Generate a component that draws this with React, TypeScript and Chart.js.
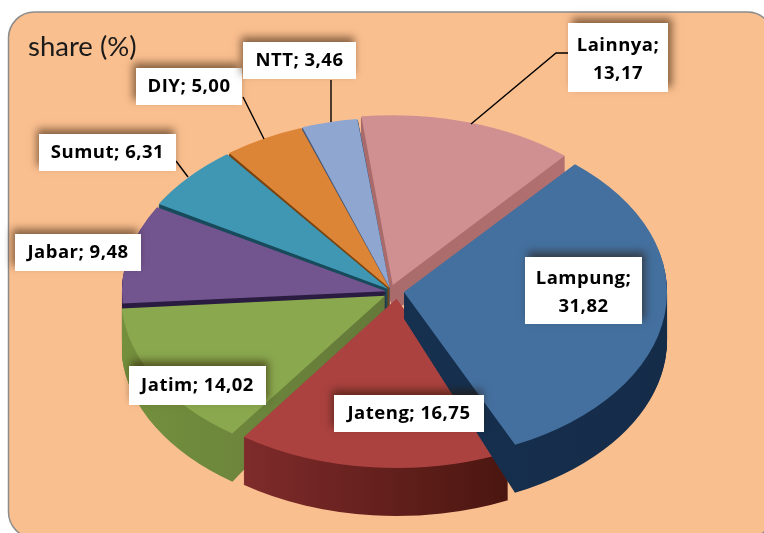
import React, { useEffect, useRef } from "react";
import { Chart, registerables } from "chart.js";

Chart.register(...registerables);

const categories = ["Lampung", "Jateng", "Jatim", "Jabar", "Sumut", "DIY", "NTT", "Lainnya"];
const shares = [31.82, 16.75, 14.02, 9.48, 6.31, 5.0, 3.46, 13.17];
const topColors = ["#44709f", "#ab4240", "#8aa84e", "#72548f", "#3f97b3", "#dd8537", "#8fa6d0", "#d08f90"];
const wallLeft = ["#16304f", "#7f2b2b", "#74903d", "#2a1c40", "#174a5a", "#7a4410", "#44587a", "#a86a6a"];
const wallRight = ["#152c49", "#4b1610", "#64793a", "#2a1c40", "#174a5a", "#7a4410", "#44587a", "#b27070"];
const sliceOffsets = [52, 68, 36, 20, 20, 20, 20, 52];
// small screen-space shifts on top of the radial explosion
const sliceNudges = [[-1, 0], [6, -3], [1, 2], [-1, 1], [0, 0], [0, 0], [-1, 0], [-3, 2]];
const titleText = "share (%)";

// label box layout: left, top, right, bottom, shadow x direction
const labelBoxes = [
  [525, 257, 642, 324, 3],
  [334, 395, 484, 432, -2],
  [129, 366, 266, 405, 2],
  [15, 234, 141, 271, -3],
  [39, 134, 176, 171, -2],
  [136, 68, 242, 105, -3],
  [243, 42, 356, 79, -2],
  [568, 23, 668, 92, 4],
];
const twoLine = [true, false, false, false, false, false, false, true];
// leader polylines per slice
const leaders: number[][][] = [
  [], [], [], [],
  [[176, 161], [188, 177]],
  [[243, 97], [264, 139]],
  [[331, 80], [331, 122]],
  [[568, 53], [556, 53], [471, 124]],
];

const SQUASH = 0.64;
const CENTER_Y = 291;
const DEPTH = 48;
const APEX_TAPER = 0.55;
const RADIUS = 262;

const pie3d = {
  id: "pie3d",
  beforeDraw(chart: any) {
    const { ctx } = chart;
    ctx.save();
    ctx.fillStyle = "#ffffff";
    ctx.fillRect(0, 0, 764, 533);
    ctx.beginPath();
    ctx.roundRect(8.5, 12, 765, 526, 26);
    ctx.fillStyle = "#fabf8f";
    ctx.fill();
    ctx.lineWidth = 1.5;
    ctx.strokeStyle = "#8c8c8c";
    ctx.stroke();
    ctx.restore();
  },
  beforeDatasetsDraw(chart: any) {
    const { ctx } = chart;
    const arcs = chart.getDatasetMeta(0).data;
    for (let i = arcs.length - 1; i >= 0; i--) {
      const arc = arcs[i];
      const { x, y, startAngle, endAngle, outerRadius } = arc.getProps(
        ["x", "y", "startAngle", "endAngle", "outerRadius"],
        true
      );
      const offset = (arc.options.offset || 0) / 4;
      const mid = (startAngle + endAngle) / 2;
      const fix = 1 - Math.sin(Math.min(Math.PI, endAngle - startAngle));
      const r = outerRadius + offset * fix;
      const ax = x + Math.cos(mid) * offset;
      const ay = y + Math.sin(mid) * offset;
      ctx.save();
      ctx.translate(sliceNudges[i][0], CENTER_Y + sliceNudges[i][1]);
      ctx.scale(1, SQUASH);
      ctx.translate(0, -y);
      let minX = ax;
      let maxX = ax;
      for (let t = 0; t <= 24; t++) {
        const px = ax + Math.cos(startAngle + ((endAngle - startAngle) * t) / 24) * r;
        minX = Math.min(minX, px);
        maxX = Math.max(maxX, px);
      }
      const grad = ctx.createLinearGradient(minX, 0, maxX, 0);
      grad.addColorStop(0, wallLeft[i]);
      grad.addColorStop(1, wallRight[i]);
      ctx.fillStyle = grad;
      for (let d = DEPTH; d >= 1; d--) {
        const dy = d / SQUASH;
        ctx.beginPath();
        ctx.moveTo(ax, ay + dy * APEX_TAPER);
        ctx.arc(ax, ay + dy, r, startAngle, endAngle);
        ctx.closePath();
        ctx.fill();
      }
      arc.draw(ctx);
      ctx.restore();
    }
    return false;
  },
  afterDraw(chart: any) {
    const { ctx } = chart;
    ctx.save();
    ctx.strokeStyle = "#000000";
    ctx.lineWidth = 1.4;
    leaders.forEach((line) => {
      if (!line.length) return;
      ctx.beginPath();
      line.forEach(([px, py], k) => (k ? ctx.lineTo(px, py) : ctx.moveTo(px, py)));
      ctx.stroke();
    });
    categories.forEach((name, i) => {
      const [l, t, r, b, sx] = labelBoxes[i];
      ctx.save();
      ctx.shadowColor = "rgba(40,20,0,0.55)";
      ctx.shadowBlur = 8;
      ctx.shadowOffsetX = sx;
      ctx.shadowOffsetY = -5;
      ctx.fillStyle = "#ffffff";
      ctx.fillRect(l, t, r - l, b - t);
      ctx.restore();
      const value = shares[i].toFixed(2).replace(".", ",");
      ctx.fillStyle = "#000000";
      ctx.font = 'bold 18.5px "Open Sans"';
      (ctx as any).letterSpacing = "0.5px";
      ctx.textAlign = "center";
      ctx.textBaseline = "middle";
      const cx = (l + r) / 2;
      const cy = (t + b) / 2;
      if (twoLine[i]) {
        ctx.fillText(name + ";", cx, cy - 12);
        ctx.fillText(value, cx, cy + 16);
      } else {
        ctx.fillText(name + "; " + value, cx, cy);
      }
    });
    ctx.restore();
  },
};

export default function App() {
  const ref = useRef<HTMLCanvasElement>(null);
  useEffect(() => {
    const chart = new Chart(ref.current as HTMLCanvasElement, {
      type: "pie",
      data: {
        labels: categories,
        datasets: [
          {
            data: shares,
            backgroundColor: topColors,
            borderWidth: 0,
            offset: sliceOffsets,
          },
        ],
      },
      options: {
        responsive: false,
        animation: false,
        rotation: 40.5,
        radius: RADIUS,
        layout: { padding: { left: 28, right: 8, top: 0, bottom: 0 } },
        plugins: {
          legend: { display: false },
          tooltip: { enabled: false },
          title: {
            display: true,
            text: titleText,
            align: "start",
            color: "#1a1a1a",
            font: { family: "Lato", size: 27.5, weight: "normal" },
            padding: { top: 31, bottom: 0 },
          },
        },
      },
      plugins: [pie3d],
    } as any);
    return () => chart.destroy();
  }, []);
  return (
    <canvas
      ref={ref}
      width={764}
      height={533}
      style={{ position: "absolute", left: 0, top: 0, width: 764, height: 533, display: "block" }}
    />
  );
}
